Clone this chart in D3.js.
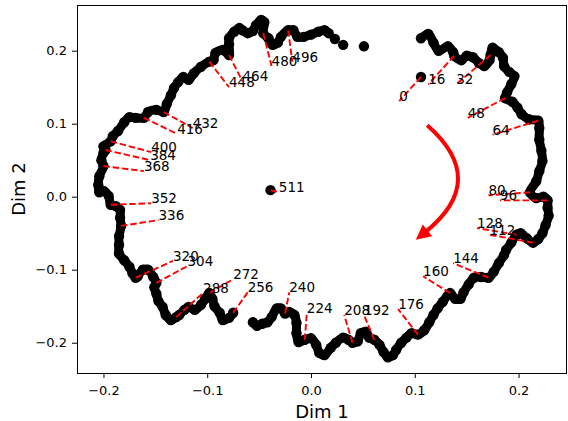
<!DOCTYPE html>
<html>
<head>
<meta charset="utf-8">
<script src="https://cdn.jsdelivr.net/npm/d3@7"></script>
<style>
  body { margin: 0; background: #fff; }
  text { font-family: "DejaVu Sans", sans-serif; }
</style>
</head>
<body>
<script>
// trajectory, in plot order (Dim 1, Dim 2)
var ringPoints = [
  [0.106,0.217],[0.113,0.223],[0.118,0.211],[0.123,0.200],[0.132,0.206],[0.137,0.198],[0.138,0.193],
  [0.145,0.187],[0.150,0.193],[0.156,0.191],[0.162,0.183],[0.167,0.179],[0.172,0.187],[0.173,0.194],
  [0.175,0.204],[0.181,0.198],[0.185,0.190],[0.186,0.179],[0.191,0.171],[0.196,0.165],[0.193,0.154],
  [0.189,0.143],[0.187,0.135],[0.194,0.130],[0.199,0.122],[0.203,0.113],[0.210,0.106],[0.219,0.104],
  [0.220,0.094],[0.220,0.078],[0.222,0.063],[0.223,0.049],[0.220,0.035],[0.217,0.021],[0.211,0.006],
  [0.217,-0.002],[0.224,0.000],[0.228,-0.005],[0.228,-0.015],[0.229,-0.026],[0.226,-0.039],[0.223,-0.050],
  [0.219,-0.058],[0.214,-0.063],[0.208,-0.057],[0.202,-0.050],[0.198,-0.052],[0.193,-0.063],[0.188,-0.073],
  [0.186,-0.080],[0.181,-0.091],[0.176,-0.103],[0.171,-0.111],[0.164,-0.110],[0.157,-0.111],[0.152,-0.120],
  [0.147,-0.131],[0.144,-0.140],[0.139,-0.140],[0.134,-0.132],[0.127,-0.144],[0.122,-0.153],[0.118,-0.162],
  [0.114,-0.172],[0.109,-0.183],[0.103,-0.189],[0.097,-0.187],[0.092,-0.193],[0.087,-0.200],[0.082,-0.210],
  [0.079,-0.217],[0.074,-0.220],[0.070,-0.213],[0.066,-0.203],[0.061,-0.196],[0.056,-0.193],[0.053,-0.185],
  [0.048,-0.187],[0.045,-0.198],[0.040,-0.200],[0.036,-0.196],[0.031,-0.193],[0.024,-0.200],[0.019,-0.207],
  [0.013,-0.217],[0.008,-0.214],[0.005,-0.203],[0.000,-0.194],[-0.006,-0.196],[-0.012,-0.199],[-0.014,-0.187],
  [-0.014,-0.173],[-0.016,-0.162],[-0.021,-0.158],[-0.025,-0.160],[-0.029,-0.153],[-0.033,-0.153],[-0.038,-0.165],
  [-0.042,-0.172],[-0.047,-0.174],[-0.052,-0.177],[-0.056,-0.172],
  [-0.075,-0.159],[-0.079,-0.166],[-0.085,-0.169],[-0.088,-0.159],[-0.093,-0.150],[-0.095,-0.140],[-0.098,-0.132],
  [-0.102,-0.140],[-0.106,-0.148],[-0.112,-0.155],[-0.118,-0.151],[-0.122,-0.155],[-0.127,-0.162],[-0.130,-0.165],
  [-0.135,-0.169],[-0.140,-0.162],[-0.143,-0.151],[-0.147,-0.143],[-0.149,-0.133],[-0.151,-0.124],[-0.149,-0.118],
  [-0.152,-0.110],[-0.157,-0.100],[-0.162,-0.100],[-0.167,-0.109],[-0.169,-0.111],[-0.172,-0.105],[-0.175,-0.096],
  [-0.180,-0.087],[-0.185,-0.078],[-0.185,-0.066],[-0.185,-0.054],[-0.183,-0.040],[-0.184,-0.029],[-0.184,-0.018],
  [-0.188,-0.013],[-0.193,-0.011],[-0.195,0.001],[-0.200,0.008],[-0.204,0.006],[-0.205,0.016],[-0.204,0.028],
  [-0.200,0.042],[-0.202,0.050],[-0.200,0.060],[-0.198,0.064],[-0.200,0.069],[-0.193,0.076],[-0.191,0.083],
  [-0.186,0.090],[-0.180,0.102],[-0.175,0.109],[-0.169,0.108],[-0.161,0.108],[-0.157,0.116],[-0.149,0.119],
  [-0.142,0.116],[-0.139,0.127],[-0.135,0.139],[-0.132,0.149],[-0.128,0.157],[-0.123,0.164],[-0.118,0.160],
  [-0.113,0.169],[-0.106,0.178],[-0.098,0.185],[-0.094,0.187],[-0.092,0.197],[-0.085,0.201],[-0.079,0.194],
  [-0.079,0.209],[-0.079,0.217],[-0.074,0.226],[-0.069,0.231],[-0.066,0.228],[-0.061,0.224],[-0.056,0.227],
  [-0.053,0.235],[-0.048,0.242],[-0.045,0.239],[-0.046,0.224],[-0.041,0.217],[-0.037,0.208],[-0.032,0.211],
  [-0.029,0.219],[-0.022,0.228],[-0.017,0.228],[-0.013,0.219],[-0.007,0.219],[0.000,0.222],[0.007,0.226],
  [0.013,0.228],[0.017,0.224]
];
// single points away from the ring: step 0, the last fast steps, step 511
var loosePoints = [[0.106,0.164],[0.023,0.216],[0.031,0.208],[0.051,0.206],[-0.039,0.009]];

var stepLabels = [0,16,32,48,64,80,96,112,128,144,160,176,192,208,224,240,256,
                  272,288,304,320,336,352,368,384,400,416,432,448,464,480,496,511];
var anchorX = [0.106,0.138,0.173,0.187,0.219,0.211,0.228,0.214,0.198,0.171,0.134,0.103,0.061,0.040,-0.006,-0.025,-0.075,
               -0.098,-0.130,-0.149,-0.169,-0.183,-0.193,-0.200,-0.198,-0.193,-0.161,-0.142,-0.098,-0.079,-0.046,-0.022,-0.039];
var anchorY = [0.164,0.193,0.194,0.135,0.104,0.006,-0.005,-0.063,-0.052,-0.111,-0.132,-0.189,-0.196,-0.200,-0.196,-0.160,-0.159,
               -0.132,-0.165,-0.118,-0.111,-0.040,-0.011,0.042,0.064,0.076,0.108,0.116,0.185,0.194,0.224,0.228,0.009];
var textX = [0.085,0.113,0.140,0.151,0.175,0.171,0.182,0.172,0.160,0.137,0.108,0.084,0.051,0.032,-0.004,-0.021,-0.061,
             -0.075,-0.104,-0.119,-0.133,-0.147,-0.154,-0.161,-0.155,-0.154,-0.129,-0.114,-0.079,-0.066,-0.038,-0.018,-0.031];
var textY = [0.131,0.154,0.154,0.108,0.085,0.002,-0.005,-0.052,-0.043,-0.091,-0.109,-0.154,-0.162,-0.162,-0.159,-0.131,-0.131,
             -0.113,-0.132,-0.095,-0.088,-0.032,-0.009,0.035,0.050,0.061,0.086,0.094,0.150,0.158,0.179,0.185,0.006];

var xTicks = [-0.2, -0.1, 0.0, 0.1, 0.2];
var yTicks = [-0.2, -0.1, 0.0, 0.1, 0.2];
var xDomain = [-0.2255, 0.2467];
var yDomain = [-0.2415, 0.2626];

// direction arrow (start, bend control, tip) in data units
var arrowStart = [0.112, 0.098];
var arrowBend = [0.172, 0.023];
var arrowTip = [0.101, -0.059];

var width = 568;
var height = 421;
var plot = { left: 77, top: 5, right: 567, bottom: 373 };

var svg = d3.select('body')
            .append('svg')
            .attr('width', width)
            .attr('height', height);

var xScale = d3.scaleLinear().domain(xDomain).range([plot.left, plot.right]);
var yScale = d3.scaleLinear().domain(yDomain).range([plot.bottom, plot.top]);

// axes
var fmt = d3.format('.1f');
var xAxis = svg.append('g')
    .attr('transform', `translate(0,${plot.bottom})`)
    .call(d3.axisBottom(xScale).tickValues(xTicks).tickFormat(fmt).tickSize(5).tickPadding(8));
var yAxis = svg.append('g')
    .attr('transform', `translate(${plot.left},0)`)
    .call(d3.axisLeft(yScale).tickValues(yTicks).tickFormat(fmt).tickSize(5).tickPadding(5));
[xAxis, yAxis].forEach(function (g) {
  g.select('.domain').remove();
  g.selectAll('text').attr('font-size', 13).attr('font-family', '"DejaVu Sans", sans-serif').attr('fill', '#000');
  g.selectAll('line').attr('stroke', '#000').attr('stroke-width', 1);
});

svg.append('rect')
    .attr('x', plot.left + 0.5)
    .attr('y', plot.top + 0.5)
    .attr('width', plot.right - plot.left - 1)
    .attr('height', plot.bottom - plot.top)
    .attr('fill', 'none')
    .attr('stroke', '#000')
    .attr('stroke-width', 1);

svg.append('text')
    .attr('x', (plot.left + plot.right) / 2)
    .attr('y', 418)
    .attr('text-anchor', 'middle')
    .attr('font-size', 18)
    .text('Dim 1');

svg.append('text')
    .attr('transform', `translate(25,${(plot.top + plot.bottom) / 2}) rotate(-90)`)
    .attr('text-anchor', 'middle')
    .attr('font-size', 18)
    .text('Dim 2');

// ring: a thick stroke where consecutive points are close, plus a dot per point
var segments = [[]];
ringPoints.forEach(function (p, i) {
  if (i > 0) {
    var q = ringPoints[i - 1];
    var dist = Math.hypot(xScale(p[0]) - xScale(q[0]), yScale(p[1]) - yScale(q[1]));
    if (dist > 15) segments.push([]);
  }
  segments[segments.length - 1].push(p);
});

var line = d3.line()
    .x(function (d) { return xScale(d[0]); })
    .y(function (d) { return yScale(d[1]); })
    .curve(d3.curveCatmullRom);

svg.append('g').selectAll('path')
    .data(segments)
    .enter()
    .append('path')
    .attr('d', line)
    .attr('fill', 'none')
    .attr('stroke', '#000')
    .attr('stroke-width', 9)
    .attr('stroke-linejoin', 'round')
    .attr('stroke-linecap', 'round');

svg.append('g').selectAll('circle')
    .data(ringPoints.concat(loosePoints))
    .enter()
    .append('circle')
    .attr('cx', function (d) { return xScale(d[0]); })
    .attr('cy', function (d) { return yScale(d[1]); })
    .attr('r', 5.2)
    .attr('fill', '#000');

// step labels with dashed leaders
var labels = stepLabels.map(function (s, i) {
  return { name: s, ax: anchorX[i], ay: anchorY[i], tx: textX[i], ty: textY[i] };
});

svg.append('g').selectAll('line')
    .data(labels)
    .enter()
    .append('line')
    .attr('x1', function (d) { return xScale(d.ax); })
    .attr('y1', function (d) { return yScale(d.ay); })
    .attr('x2', function (d) { return xScale(d.tx); })
    .attr('y2', function (d) { return yScale(d.ty); })
    .attr('stroke', 'red')
    .attr('stroke-width', 1.9)
    .attr('stroke-dasharray', '6.5,2.8');

svg.append('g').selectAll('text')
    .data(labels)
    .enter()
    .append('text')
    .attr('x', function (d) { return xScale(d.tx); })
    .attr('y', function (d) { return yScale(d.ty); })
    .attr('font-size', 13.5)
    .attr('fill', '#000')
    .text(function (d) { return d.name; });

// curved red arrow
var p0 = [xScale(arrowStart[0]), yScale(arrowStart[1])];
var pc = [xScale(arrowBend[0]), yScale(arrowBend[1])];
var tip = [xScale(arrowTip[0]), yScale(arrowTip[1])];
var dx = tip[0] - pc[0], dy = tip[1] - pc[1];
var len = Math.hypot(dx, dy);
var ux = dx / len, uy = dy / len;
var headLen = 15, headHalf = 7.5;
var base = [tip[0] - ux * headLen, tip[1] - uy * headLen];

var arrowPath = d3.path();
arrowPath.moveTo(p0[0], p0[1]);
arrowPath.quadraticCurveTo(pc[0], pc[1], base[0] + ux * 2, base[1] + uy * 2);
svg.append('path')
    .attr('d', arrowPath.toString())
    .attr('fill', 'none')
    .attr('stroke', 'red')
    .attr('stroke-width', 4);

svg.append('polygon')
    .attr('points', [
      tip,
      [base[0] - uy * headHalf, base[1] + ux * headHalf],
      [base[0] + uy * headHalf, base[1] - ux * headHalf]
    ].map(function (p) { return p.join(','); }).join(' '))
    .attr('fill', 'red');
</script>
</body>
</html>
